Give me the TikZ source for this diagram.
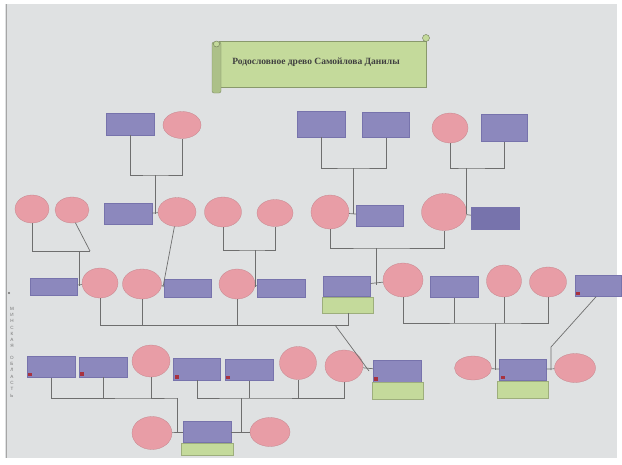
\documentclass[tikz,border=0pt]{standalone}
\usepackage{fontspec}
\setmainfont{Liberation Serif}
\newfontfamily\labfont{Liberation Sans}
\usetikzlibrary{shapes.geometric}
\definecolor{paper}{HTML}{DFE1E2}
\definecolor{purp}{HTML}{8C88BD}
\definecolor{purpd}{HTML}{7773AC}
\definecolor{pinkc}{HTML}{E89DA6}
\definecolor{greenc}{HTML}{C4DA9B}
\definecolor{lnc}{HTML}{6E6E6E}
\definecolor{iconc}{HTML}{A8323F}
\tikzset{
  pbox/.style={rectangle, fill=purp, draw=purpd, line width=0.4pt, inner sep=0pt},
  pell/.style={ellipse, fill=pinkc, draw=pinkc!85!black, line width=0.3pt, inner sep=0pt},
  gbox/.style={rectangle, fill=greenc, draw=greenc!80!black, line width=0.3pt, inner sep=0pt},
  wsz/.style 2 args={minimum width=#1pt, minimum height=#2pt},
  lnk/.style={draw=lnc, line width=0.7pt},
  iconm/.style={fill=iconc}
}
\begin{document}
\begin{tikzpicture}[x=1pt,y=-1pt]
\useasboundingbox (0,0) rectangle (622,464);
\fill[white] (0,0) rectangle (622,464);
\fill[paper] (5,4) rectangle (617,458);
\draw[gray!70, line width=0.4pt] (6,4) -- (6,458);

% title scroll
\fill[greenc, draw=greenc!70!black, line width=0.4pt] (219,41) rectangle (426,87);
\fill[greenc!88!black, draw=greenc!65!black, line width=0.4pt, rounded corners=2pt] (212,42) rectangle (221,93);
\draw[greenc!55!black, line width=0.4pt, fill=greenc] (426,38) circle (3.5);
\draw[greenc!55!black, line width=0.4pt, fill=greenc] (216.5,44) circle (3);
\node[font=\bfseries\fontsize{9.5}{11}\selectfont, text=black!75] (title) at (316,62) {Родословное древо Самойлова Данилы};

% side label
\fill[lnc] (9,293) circle (1.1);
\node[font=\labfont\fontsize{4.6}{6.3}\selectfont, text=black!55, align=center, inner sep=0pt] (side) at (12,352)
 {М\\И\\Н\\С\\К\\А\\Я\\[5pt]О\\Б\\Л\\А\\С\\Т\\Ь};

% row 1
\node[pbox, wsz={48}{22}] (r1a) at (130,124) {};
\node[pell, wsz={38}{27}] (e1a) at (182,125) {};
\node[pbox, wsz={48}{26}] (r1b) at (321,124) {};
\node[pbox, wsz={47}{25}] (r1c) at (386,125) {};
\node[pell, wsz={36}{30}] (e1c) at (450,128) {};
\node[pbox, wsz={46}{27}] (r1d) at (504,128) {};

% row 2
\node[pell, wsz={34}{28}] (e2a) at (32,209) {};
\node[pell, wsz={34}{26}] (e2b) at (72,210) {};
\node[pbox, wsz={48}{21}] (r2a) at (128,214) {};
\node[pell, wsz={38}{29}] (e2c) at (177,212) {};
\node[pell, wsz={37}{30}] (e2d) at (223,212) {};
\node[pell, wsz={36}{27}] (e2e) at (275,213) {};
\node[pell, wsz={38}{34}] (e2f) at (330,212) {};
\node[pbox, wsz={47}{21}] (r2b) at (380,216) {};
\node[pell, wsz={45}{37}] (e2g) at (444,212) {};
\node[pbox, wsz={48}{22}, fill=purpd] (r2c) at (495,218) {};

% row 3
\node[pbox, wsz={47}{17}] (r3a) at (54,287) {};
\node[pell, wsz={36}{30}] (e3a) at (100,283) {};
\node[pell, wsz={39}{30}] (e3b) at (142,284) {};
\node[pbox, wsz={47}{18}] (r3b) at (188,288) {};
\node[pell, wsz={36}{30}] (e3c) at (237,284) {};
\node[pbox, wsz={48}{18}] (r3c) at (281,288) {};
\node[pbox, wsz={47}{20}] (r3d) at (347,286) {};
\node[gbox, wsz={51}{16}] (g3d) at (348,305) {};
\node[pell, wsz={40}{34}] (e3e) at (403,280) {};
\node[pbox, wsz={48}{21}] (r3e) at (454,287) {};
\node[pell, wsz={35}{32}] (e3f) at (504,281) {};
\node[pell, wsz={37}{30}] (e3g) at (548,282) {};
\node[pbox, wsz={46}{21}] (r3f) at (598,286) {};

% row 4
\node[pbox, wsz={48}{21}] (r4a) at (51,367) {};
\node[pbox, wsz={48}{20}] (r4b) at (103,367) {};
\node[pell, wsz={38}{32}] (e4a) at (151,361) {};
\node[pbox, wsz={47}{22}] (r4c) at (197,369) {};
\node[pbox, wsz={48}{21}] (r4d) at (249,370) {};
\node[pell, wsz={37}{33}] (e4b) at (298,363) {};
\node[pell, wsz={38}{32}] (e4f) at (344,366) {};
\node[pbox, wsz={48}{22}] (r4g) at (397,371) {};
\node[gbox, wsz={51}{17}] (g4g) at (398,391) {};
\node[pell, wsz={37}{24}] (e4g) at (473,368) {};
\node[pbox, wsz={47}{21}] (r4h) at (523,370) {};
\node[gbox, wsz={51}{17}] (g4h) at (523,390) {};
\node[pell, wsz={41}{29}] (e4h) at (575,368) {};

% row 5
\node[pell, wsz={40}{33}] (e5a) at (152,433) {};
\node[pbox, wsz={48}{21}] (r5) at (207,432) {};
\node[gbox, wsz={52}{12}] (g5) at (207,449) {};
\node[pell, wsz={40}{29}] (e5b) at (270,432) {};

% icons
\foreach \n in {r4a,r4b,r4c,r4d,r4g,r4h,r3f}{
  \fill[iconm] ([shift={(1.5,-1.5)}]\n.south west) rectangle +(4,-3.5);
}

% junction coordinates
\coordinate (c1L) at (155,175);
\coordinate (j2a) at (155,214);
\coordinate (c1M) at (353,168);
\coordinate (j2b) at (353,214);
\coordinate (c1R) at (466,168);
\coordinate (j2c) at (466,214);
\coordinate (c2Lr) at (90,251);
\coordinate (j2L) at (79,251);
\coordinate (j3a) at (79,286);
\coordinate (j3c) at (163,287);
\coordinate (c2R) at (255,250);
\coordinate (j3d) at (255,287);
\coordinate (c2M) at (376,248);
\coordinate (j3b) at (376,285);
\coordinate (c3Lr) at (348,325);
\coordinate (c3Ls) at (335,325);
\coordinate (j4b) at (369,371);
\coordinate (c3R) at (495,323);
\coordinate (j4c) at (495,370);
\coordinate (c3f) at (551,347);
\coordinate (j4d) at (551,370);
\coordinate (c4L) at (177,398);
\coordinate (j5a) at (177,433);
\coordinate (c4R) at (241,398);
\coordinate (j5b) at (241,433);

% connectors row1 -> row2
\draw[lnk] (r1a) |- (c1L) -| (e1a);
\draw[lnk] (c1L) -- (j2a);
\draw[lnk] (r2a) -- (e2c);
\draw[lnk] (r1b) |- (c1M) -| (r1c);
\draw[lnk] (c1M) -- (j2b);
\draw[lnk] (e2f) -- (r2b);
\draw[lnk] (e1c) |- (c1R) -| (r1d);
\draw[lnk] (c1R) -- (j2c);
\draw[lnk] (e2g) -- (r2c);

% row2 -> row3
\draw[lnk] (e2a) |- (c2Lr);
\draw[lnk] (e2b.-75) -- (c2Lr);
\draw[lnk] (j2L) -- (j3a);
\draw[lnk] (r3a) -- (e3a);
\draw[lnk] (e2c.-100) -- (j3c);
\draw[lnk] (e3b) -- (r3b);
\draw[lnk] (e2d) |- (c2R) -| (e2e);
\draw[lnk] (c2R) -- (j3d);
\draw[lnk] (e3c) -- (r3c);
\draw[lnk] (e2f) |- (c2M) -| (e2g);
\draw[lnk] (c2M) -- (j3b);
\draw[lnk] (r3d) -- (e3e);

% row3 -> row4
\draw[lnk] (e3a) |- (c3Lr) -| (g3d);
\draw[lnk] (e3b) -- (e3b |- c3Lr);
\draw[lnk] (e3c) -- (e3c |- c3Lr);
\draw[lnk] (c3Ls) -- (j4b);
\draw[lnk] (e4f) -- (r4g);
\draw[lnk] (e3e) |- (c3R) -| (e3g);
\draw[lnk] (r3e) -- (r3e |- c3R);
\draw[lnk] (e3f) -- (e3f |- c3R);
\draw[lnk] (c3R) -- (j4c);
\draw[lnk] (e4g) -- (r4h);
\draw[lnk] (r3f.-100) -- (c3f) -- (j4d);
\draw[lnk] (r4h) -- (e4h);

% row4 -> row5
\draw[lnk] (r4a) |- (c4L) -| (e4a);
\draw[lnk] (r4b) -- (r4b |- c4L);
\draw[lnk] (c4L) -- (j5a);
\draw[lnk] (e5a) -- (r5);
\draw[lnk] (r4c) |- (c4R) -| (e4f);
\draw[lnk] (r4d) -- (r4d |- c4R);
\draw[lnk] (e4b) -- (e4b |- c4R);
\draw[lnk] (c4R) -- (j5b);
\draw[lnk] (r5) -- (e5b);
\end{tikzpicture}
\end{document}
